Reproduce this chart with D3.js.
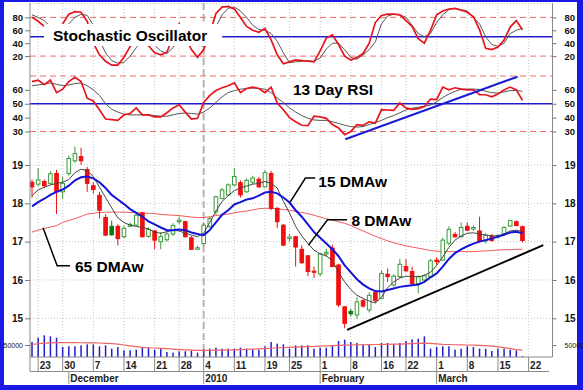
<!DOCTYPE html>
<html><head><meta charset="utf-8">
<script src="https://cdn.jsdelivr.net/npm/d3@7"></script>
<style>body{margin:0;background:#fff}svg{display:block}text{font-family:'Liberation Sans',Arial,sans-serif}</style>
</head><body><svg id="c" width="583" height="390"></svg>
<script>
// ---------- DATA ----------
const sessions = [
"2009-11-20","2009-11-23","2009-11-24","2009-11-25","2009-11-27","2009-11-30",
"2009-12-01","2009-12-02","2009-12-03","2009-12-04",
"2009-12-07","2009-12-08","2009-12-09","2009-12-10","2009-12-11",
"2009-12-14","2009-12-15","2009-12-16","2009-12-17","2009-12-18",
"2009-12-21","2009-12-22","2009-12-23","2009-12-24",
"2009-12-28","2009-12-29","2009-12-30","2009-12-31",
"2010-01-04","2010-01-05","2010-01-06","2010-01-07","2010-01-08",
"2010-01-11","2010-01-12","2010-01-13","2010-01-14","2010-01-15",
"2010-01-19","2010-01-20","2010-01-21","2010-01-22",
"2010-01-25","2010-01-26","2010-01-27","2010-01-28","2010-01-29",
"2010-02-01","2010-02-02","2010-02-03","2010-02-04","2010-02-05",
"2010-02-08","2010-02-09","2010-02-10","2010-02-11","2010-02-12",
"2010-02-16","2010-02-17","2010-02-18","2010-02-19",
"2010-02-22","2010-02-23","2010-02-24","2010-02-25","2010-02-26",
"2010-03-01","2010-03-02","2010-03-03","2010-03-04","2010-03-05",
"2010-03-08","2010-03-09","2010-03-10","2010-03-11","2010-03-12",
"2010-03-15","2010-03-16","2010-03-17","2010-03-18","2010-03-19",
"2010-03-22","2010-03-23","2010-03-24","2010-03-25","2010-03-26"];

const open = [18.55,18.50,18.57,18.52,18.78,18.30,18.78,19.11,19.22,18.88,
 18.46,18.21,17.63,17.40,17.40,17.13,17.40,17.43,17.75,17.14,
 17.28,17.00,17.05,17.20,17.52,17.52,17.10,16.80,16.95,17.40,
 17.78,18.13,18.22,18.48,18.54,18.30,18.55,18.63,18.43,18.78,
 17.87,17.43,17.08,17.13,16.80,16.63,16.23,16.16,16.68,16.83,
 16.39,15.30,15.18,15.09,15.46,15.22,15.67,15.52,16.15,15.87,
 16.09,16.35,16.22,15.90,16.00,16.09,16.52,16.52,16.96,17.19,
 17.13,17.40,17.33,17.28,17.02,17.15,17.12,17.20,17.41,17.52,
 17.39];
const high = [18.62,18.92,18.62,18.84,18.87,18.70,19.25,19.48,19.45,18.95,
 18.55,18.30,17.72,17.55,17.45,17.42,17.50,17.72,17.78,17.38,
 17.30,17.25,17.25,17.48,17.65,17.55,17.15,16.90,17.50,17.65,
 18.20,18.40,18.52,18.92,18.60,18.65,18.72,18.68,18.87,18.85,
 17.90,17.46,17.20,17.15,16.90,16.65,16.35,16.70,16.82,16.92,
 16.42,15.32,15.25,15.55,15.50,15.68,15.72,16.25,16.30,16.15,
 16.55,16.55,16.35,16.12,16.15,16.55,16.60,17.10,17.40,17.25,
 17.50,17.50,17.42,17.65,17.22,17.20,17.20,17.40,17.58,17.55,
 17.42];
const low = [18.15,18.45,18.40,18.48,17.72,18.12,18.72,19.05,19.00,18.30,
 18.25,17.60,17.15,17.15,16.90,17.08,17.38,17.40,17.10,17.10,
 16.80,16.80,17.00,17.15,17.45,17.10,16.78,16.78,16.90,17.35,
 17.70,18.10,18.20,18.45,18.15,18.28,18.50,18.40,18.40,17.82,
 17.35,16.88,17.00,16.35,16.42,16.10,16.05,16.10,16.60,16.35,
 15.30,14.74,15.05,14.98,15.28,15.15,15.40,15.50,15.95,15.82,
 16.05,16.20,15.85,15.65,15.95,16.05,16.40,16.50,16.90,17.10,
 17.10,17.28,17.28,16.98,16.95,17.00,17.08,17.15,17.38,17.40,
 16.98];
const close = [18.43,18.61,18.46,18.77,18.30,18.52,19.17,19.30,19.11,18.52,
 18.36,17.82,17.17,17.18,17.08,17.35,17.45,17.69,17.13,17.32,
 17.04,17.13,17.20,17.42,17.56,17.13,16.80,16.84,17.43,17.60,
 18.17,18.35,18.48,18.70,18.22,18.60,18.66,18.43,18.80,17.87,
 17.52,16.91,17.12,16.86,16.45,16.22,16.20,16.68,16.72,16.35,
 15.35,14.87,15.12,15.43,15.32,15.60,15.46,16.17,16.09,16.10,
 16.41,16.24,15.91,16.09,16.11,16.50,16.48,17.04,17.32,17.13,
 17.37,17.30,17.37,17.02,17.17,17.03,17.16,17.37,17.55,17.42,
 17.03];

const dma8 = [18.20,18.35,18.42,18.48,18.52,18.55,18.62,18.80,18.89,18.85,
 18.70,18.42,18.15,17.88,17.62,17.50,17.43,17.40,17.37,17.33,
 17.25,17.22,17.26,17.30,17.28,17.22,17.17,17.13,17.22,17.50,
 17.80,18.05,18.20,18.33,18.40,18.45,18.50,18.52,18.57,18.52,
 18.40,18.05,17.75,17.40,17.15,16.95,16.78,16.68,16.63,16.50,
 16.20,15.95,15.75,15.60,15.52,15.45,15.40,15.55,15.80,15.95,
 16.05,16.10,16.09,16.08,16.12,16.20,16.38,16.60,16.85,17.04,
 17.15,17.22,17.23,17.20,17.17,17.15,17.15,17.20,17.28,17.30,
 17.26];
const dma15 = [17.92,18.03,18.12,18.22,18.30,18.36,18.46,18.60,18.68,18.70,
 18.65,18.55,18.40,18.22,18.10,17.98,17.85,17.75,17.65,17.53,
 17.45,17.37,17.30,17.30,17.32,17.30,17.24,17.20,17.17,17.30,
 17.50,17.70,17.82,17.97,18.03,18.10,18.13,18.20,18.28,18.30,
 18.26,18.15,18.02,17.82,17.65,17.45,17.25,17.10,16.95,16.80,
 16.62,16.38,16.20,16.02,15.88,15.78,15.71,15.70,15.74,15.78,
 15.82,15.84,15.86,15.88,15.95,16.07,16.17,16.35,16.55,16.70,
 16.80,16.88,16.95,17.00,17.04,17.08,17.13,17.18,17.24,17.26,
 17.22];
const dma65 = [17.25,17.30,17.34,17.38,17.42,17.50,17.55,17.60,17.66,17.72,
 17.74,17.76,17.77,17.77,17.77,17.77,17.76,17.76,17.75,17.74,
 17.73,17.71,17.70,17.69,17.68,17.66,17.64,17.63,17.63,17.65,
 17.68,17.70,17.72,17.75,17.78,17.80,17.83,17.86,17.87,17.87,
 17.86,17.84,17.82,17.79,17.76,17.73,17.69,17.64,17.60,17.56,
 17.52,17.48,17.42,17.35,17.28,17.21,17.14,17.08,17.02,16.97,
 16.93,16.89,16.86,16.83,16.80,16.77,16.75,16.74,16.74,16.74,
 16.74,16.74,16.74,16.75,16.76,16.77,16.78,16.79,16.79,16.80,
 16.80];

const stochK = [80,74,66,58,55,70,85,89,88,74,
 40,22,12,6,6,18,35,48,50,36,
 25,22,26,50,70,50,30,18,30,55,
 86,96,97,93,80,66,60,57,63,45,
 22,8,11,14,13,12,11,28,48,53,
 38,20,14,18,24,40,72,83,85,85,
 84,75,66,47,40,60,84,90,93,94,
 91,88,81,61,32,30,34,45,65,75,
 61];
const stochD = [84,80,75,66,60,60,70,80,85,83,
 68,45,25,13,9,10,20,33,44,44,
 37,28,24,33,49,57,50,40,34,40,
 65,84,94,96,90,80,68,61,60,55,
 43,25,10,11,12,13,12,17,31,40,
 40,30,18,15,22,30,42,70,82,85,
 84,80,68,55,50,55,72,84,92,94,
 92,90,80,70,50,38,35,40,55,60,
 63];

const rsi13 = [66,67,63.7,67,58,60.5,66,69,66,54,
 52,45.7,39,38.5,38,42,43,47,42,42,
 40.5,40.5,43.5,47,49.3,44,39,39.5,51,56,
 59.5,61.5,63,65,58,61,62,61,58,62,
 50.5,45.7,40,37,34.5,34.2,41,40.5,39.5,35,
 32.5,27.7,30,35,34.5,37,36,45.7,45.5,45.2,
 50.5,47,46,46.5,48,53.4,53,62,60,61.5,
 60.5,60,60,56.5,56.5,55,57,60,62,60,
 52.4];
const rsiAvg = [63,63.5,64.3,65,64,63,63.5,64.5,65,63,
 60,56,50,46,44,42.5,42,42,42,42,
 41.5,41,41,42,43,43.3,43,42.5,44,47,
 51,55,58,59.5,60.5,61,61.3,61,60.5,58,
 54,51,47,44,41.5,39.5,38.3,38,38,37,
 35.8,34.5,33.5,33.2,33.5,35,36.5,38,40,41.5,
 43.5,45.5,46.8,47.5,48.2,49,51.5,54.5,57,59,
 60.5,60.6,60.6,60.3,59,58,57.7,58.5,59.5,59.6,
 59];

const volume = [62500,80500,90300,86100,80500,41700,44400,44400,48600,52800,
 52800,44400,48600,34700,41700,27800,27800,30600,38900,38900,
 30600,34700,20800,18100,23600,23600,27800,18100,30600,34700,
 38900,34700,34700,34700,38900,34700,30600,30600,44400,62500,
 55600,52800,34700,48600,48600,48600,34700,38900,38900,48600,
 66700,72200,62500,58300,52800,52800,41700,58300,58300,52800,
 58300,66700,73600,76400,86100,34700,41700,44400,44400,30600,
 34700,44400,41700,34700,34700,25000,34700,34700,30600,27800,
 4200];
const volumeAvg = [52000,56000,58000,59000,59500,59700,59700,59500,59300,59000,
 58600,58300,57000,55500,53500,50000,46500,43000,40000,38500,
 37500,36000,34700,33000,31000,29500,28500,28000,27800,28000,
 28500,29000,29500,30000,30600,31500,32500,33800,35000,36500,
 38500,39500,40500,41500,42500,43500,44500,45500,46500,47500,
 48500,49500,50000,50500,51000,51500,52000,52500,53000,53500,
 54000,55000,55500,56500,57500,56500,55000,53000,52000,51000,
 50500,50000,49500,48500,47000,45000,42500,39000,35000,31000,
 29000];

const stochTicks = [20,40,60,80];
const stochBands = [20,80];
const rsiTicks = [30,40,50,60];
const rsiBands = [30,70];
const midLine = 50;
const priceTicks = [15,16,17,18,19];
const volumeTicks = [50000];
const dayTicks = ["2009-11-23","2009-11-30","2009-12-07","2009-12-14","2009-12-21","2009-12-28",
 "2010-01-04","2010-01-11","2010-01-19","2010-01-25","2010-02-01","2010-02-08","2010-02-16",
 "2010-02-22","2010-03-01","2010-03-08","2010-03-15","2010-03-22"];
const monthTicks = ["2009-12-01","2010-01-04","2010-02-01","2010-03-01"];
const monthLabels = ["December","2010","February","March"];
const yearBreak = "2010-01-04";
// annotations: [session index, value]
const priceTrend = [[51.4,14.70],[83.4,16.91]];
const rsiTrend = [[51.1,24.4],[79.2,69.5]];
const maLabels = [
  {text:"15 DMAw", pts:[[42.1,18.03],[44.6,18.66],[46.2,18.66]], at:[46.7,18.43]},
  {text:"8 DMAw",  pts:[[45.1,16.91],[48.2,17.57],[51.4,17.57]], at:[52.1,17.42]},
  {text:"65 DMAw", pts:[[1.8,17.36],[4.1,16.37],[6.2,16.37]], at:[7.0,16.21]}
];

// ---------- DRAW ----------
const svg = d3.select("#c");
const W = 583, H = 390;
svg.append("rect").attr("width", W).attr("height", H).attr("fill", "#1a1ae6");
svg.append("rect").attr("x", 4).attr("y", 2).attr("width", 573).attr("height", 383).attr("fill", "#fff");

const L = 30, R = 552.5, TOP = 3, BASE = 357;
const x = d3.scaleLinear().domain([-0.33, 84.9]).range([L, R]);
const yS = d3.scaleLinear().domain([0, 100]).range([69, 4.5]);
const yR = d3.scaleLinear().domain([30, 70]).range([131.5, 76]);
const yP = d3.scaleLinear().domain([15, 19]).range([318.3, 165]);
const yV = d3.scaleLinear().domain([0, 50000]).range([BASE, 345]);
const idx = d => sessions.indexOf(d);
const N = close.length;
const days = d3.range(N);

svg.append("clipPath").attr("id", "clip").append("rect")
  .attr("x", L).attr("y", TOP).attr("width", R - L).attr("height", BASE - TOP);

// grid
const grid = svg.append("g").attr("stroke", "#c6c6c6").attr("stroke-dasharray", "1,2");
grid.selectAll(".v").data(dayTicks).join("line")
  .attr("x1", d => x(idx(d))).attr("x2", d => x(idx(d))).attr("y1", TOP).attr("y2", BASE);
grid.selectAll(".h").data(priceTicks).join("line")
  .attr("x1", L).attr("x2", R).attr("y1", d => yP(d)).attr("y2", d => yP(d));
grid.append("line").attr("x1", L).attr("x2", R).attr("y1", TOP + 0.5).attr("y2", TOP + 0.5);

// year break
svg.append("line").attr("x1", x(idx(yearBreak))).attr("x2", x(idx(yearBreak)))
  .attr("y1", TOP).attr("y2", BASE).attr("stroke", "#b4b4b4").attr("stroke-width", 2).attr("stroke-dasharray", "7,4");

// reference bands
const ref = svg.append("g");
ref.selectAll(".sb").data(stochBands).join("line")
  .attr("x1", L).attr("x2", R).attr("y1", d => yS(d)).attr("y2", d => yS(d))
  .attr("stroke", "#ee6a6a").attr("stroke-dasharray", "6,4");
ref.selectAll(".rb").data(rsiBands).join("line")
  .attr("x1", L).attr("x2", R).attr("y1", d => yR(d)).attr("y2", d => yR(d))
  .attr("stroke", "#ee6a6a").attr("stroke-dasharray", "6,4");
ref.append("line").attr("x1", L).attr("x2", R).attr("y1", yS(midLine)).attr("y2", yS(midLine))
  .attr("stroke", "#1c1cd0").attr("stroke-width", 1.5);
ref.append("line").attr("x1", L).attr("x2", R).attr("y1", yR(midLine)).attr("y2", yR(midLine))
  .attr("stroke", "#1c1cd0").attr("stroke-width", 1.5);

const plot = svg.append("g").attr("clip-path", "url(#clip)");
const line = (arr, y) => d3.line().x((d, i) => x(i)).y(d => y(d))(arr);

// stochastic
plot.append("path").attr("d", line(stochD, yS)).attr("fill", "none").attr("stroke", "#555").attr("stroke-width", 1);
plot.append("path").attr("d", line(stochK, yS)).attr("fill", "none").attr("stroke", "#e8141c").attr("stroke-width", 1.7);
// rsi
plot.append("path").attr("d", line(rsiAvg, yR)).attr("fill", "none").attr("stroke", "#555").attr("stroke-width", 1);
plot.append("path").attr("d", line(rsi13, yR)).attr("fill", "none").attr("stroke", "#e8141c").attr("stroke-width", 1.7);

// volume
plot.selectAll(".vb").data(volume).join("rect")
  .attr("x", (d, i) => x(i) - 0.75).attr("width", 1.5)
  .attr("y", d => yV(d)).attr("height", d => BASE - yV(d)).attr("fill", "#1e1ecc");
plot.append("path").attr("d", line(volumeAvg, yV)).attr("fill", "none").attr("stroke", "#f06464").attr("stroke-width", 1.2);

// moving averages
plot.append("path").attr("d", line(dma65, yP)).attr("fill", "none").attr("stroke", "#f05a5a").attr("stroke-width", 1);

// candles
const candles = plot.append("g");
days.forEach(i => {
  const o = open[i], c = close[i], pc = i ? close[i - 1] : o;
  const filled = c < o;
  const up = c >= pc;
  const col = up ? (filled ? "#0a7a0a" : "#3a9a3a") : "#f01010";
  const cx = x(i);
  candles.append("line").attr("x1", cx).attr("x2", cx).attr("y1", yP(high[i])).attr("y2", yP(low[i]))
    .attr("stroke", col).attr("stroke-width", 1);
  const top = yP(Math.max(o, c)), bot = yP(Math.min(o, c));
  candles.append("rect").attr("x", cx - 1.8).attr("width", 3.6)
    .attr("y", top).attr("height", Math.max(1, bot - top))
    .attr("fill", filled ? col : "#fff").attr("stroke", col).attr("stroke-width", 1);
});

plot.append("path").attr("d", line(dma8, yP)).attr("fill", "none").attr("stroke", "#444").attr("stroke-width", 1);
plot.append("path").attr("d", line(dma15, yP)).attr("fill", "none").attr("stroke", "#1414d8").attr("stroke-width", 2);

// trend lines
svg.append("line").attr("x1", x(priceTrend[0][0])).attr("y1", yP(priceTrend[0][1]))
  .attr("x2", x(priceTrend[1][0])).attr("y2", yP(priceTrend[1][1])).attr("stroke", "#000").attr("stroke-width", 2);
svg.append("line").attr("x1", x(rsiTrend[0][0])).attr("y1", yR(rsiTrend[0][1]))
  .attr("x2", x(rsiTrend[1][0])).attr("y2", yR(rsiTrend[1][1])).attr("stroke", "#1c1cd8").attr("stroke-width", 2);

// MA labels
maLabels.forEach(m => {
  svg.append("path").attr("d", d3.line().x(p => x(p[0])).y(p => yP(p[1]))(m.pts))
    .attr("fill", "none").attr("stroke", "#000").attr("stroke-width", 1.5);
  svg.append("text").attr("x", x(m.at[0])).attr("y", yP(m.at[1])).text(m.text)
    .attr("font-size", 15.5).attr("font-weight", "bold").attr("fill", "#000");
});

// panel titles with white boxes
function boxed(txt, tx, ty, padL, padR, padT, padB) {
  const g = svg.append("g");
  const r = g.append("rect").attr("fill", "#fff");
  const t = g.append("text").attr("x", tx).attr("y", ty).text(txt)
    .attr("font-size", 15.5).attr("font-weight", "bold").attr("fill", "#000");
  const b = t.node().getBBox();
  r.attr("x", b.x - padL).attr("y", b.y - padT).attr("width", b.width + padL + padR).attr("height", b.height + padT + padB);
}
boxed("Stochastic Oscillator", 53, 41, 9, 15, 3, 2);
boxed("13 Day RSI", 293, 95, 4, 4, 1, 1);

// axes
const ax = svg.append("g").attr("stroke", "#8a8a8a");
ax.append("line").attr("x1", L).attr("x2", L).attr("y1", TOP).attr("y2", 371.5);
ax.append("line").attr("x1", R).attr("x2", R).attr("y1", TOP).attr("y2", BASE);
ax.append("line").attr("x1", L).attr("x2", R).attr("y1", BASE).attr("y2", BASE);
ax.append("line").attr("x1", L).attr("x2", 549).attr("y1", 371.5).attr("y2", 371.5);

function sideAxis(scale, ticks, fmt, fs) {
  const gl = svg.append("g").attr("transform", `translate(${L},0)`)
    .call(d3.axisLeft(scale).tickValues(ticks).tickSize(5).tickPadding(2).tickFormat(fmt));
  const gr = svg.append("g").attr("transform", `translate(${R},0)`)
    .call(d3.axisRight(scale).tickValues(ticks).tickSize(4).tickPadding(8).tickFormat(fmt));
  [gl, gr].forEach(g => {
    g.select(".domain").remove();
    g.selectAll("line").attr("stroke", "#777");
    g.selectAll("text").attr("font-size", fs).attr("fill", "#111").attr("font-weight", fs > 8 ? "bold" : "normal")
      .style("font-family", "'Liberation Sans',Arial,sans-serif");
  });
}
sideAxis(yS, stochTicks, d3.format("d"), 9.5);
sideAxis(yR, rsiTicks, d3.format("d"), 9.5);
sideAxis(yP, priceTicks, d3.format("d"), 10);
sideAxis(yV, volumeTicks, d3.format("d"), 7);

// date axis
const dx = svg.append("g");
dx.selectAll(".dt").data(dayTicks).join("line")
  .attr("x1", d => x(idx(d))).attr("x2", d => x(idx(d))).attr("y1", BASE).attr("y2", 371.5).attr("stroke", "#8a8a8a");
dx.selectAll(".dl").data(dayTicks).join("text")
  .attr("x", d => x(idx(d)) + 1.5).attr("y", 369).text(d => +d.slice(8))
  .attr("font-size", 10).attr("font-weight", "bold").attr("fill", "#222");
dx.selectAll(".mt").data(monthTicks).join("line")
  .attr("x1", d => x(idx(d))).attr("x2", d => x(idx(d))).attr("y1", 371.5).attr("y2", 384).attr("stroke", "#8a8a8a");
dx.selectAll(".ml").data(monthTicks).join("text")
  .attr("x", d => x(idx(d)) + 1.5).attr("y", 382).text((d, i) => monthLabels[i])
  .attr("font-size", 10).attr("font-weight", "bold").attr("fill", "#222");
</script></body></html>
